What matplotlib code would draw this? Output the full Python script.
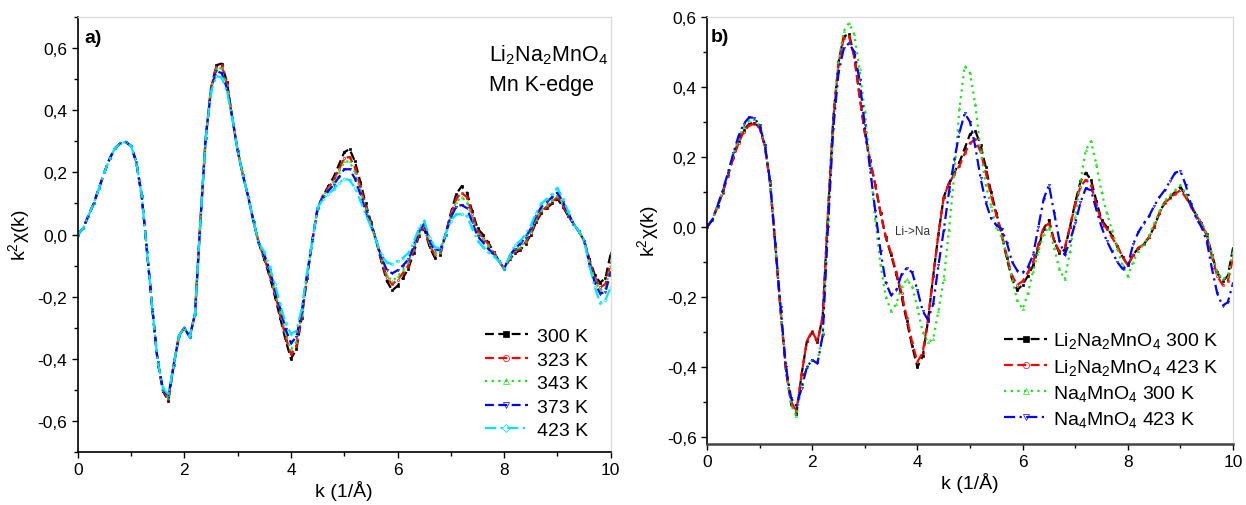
import numpy as np
import matplotlib
matplotlib.use("Agg")
import matplotlib.pyplot as plt
from matplotlib.ticker import MultipleLocator, FuncFormatter

plt.rcParams['font.family'] = ['Liberation Sans', 'DejaVu Sans']
plt.rcParams['mathtext.fontset'] = 'custom'
plt.rcParams['mathtext.rm'] = 'Liberation Sans'
plt.rcParams['mathtext.it'] = 'Liberation Sans:italic'
plt.rcParams['mathtext.default'] = 'regular'

# ---------------- data ----------------
K = np.linspace(0, 10, 101)

A300 = [0.000, 0.020, 0.060, 0.100, 0.150, 0.200, 0.245, 0.278, 0.294, 0.298,
        0.285, 0.232, 0.125, -0.055, -0.240, -0.410, -0.505, -0.535, -0.420, -0.325,
        -0.300, -0.330, -0.255, 0.040, 0.310, 0.470, 0.545, 0.550, 0.490, 0.375,
        0.270, 0.190, 0.120, 0.040, -0.030, -0.080, -0.135, -0.200, -0.270, -0.340,
        -0.400, -0.370, -0.270, -0.140, -0.020, 0.085, 0.125, 0.155, 0.185, 0.225,
        0.265, 0.275, 0.235, 0.170, 0.100, 0.040, -0.020, -0.090, -0.150, -0.180,
        -0.165, -0.140, -0.110, -0.060, -0.005, 0.020, -0.040, -0.075, -0.065, 0.000,
        0.070, 0.130, 0.155, 0.135, 0.075, 0.020, 0.000, -0.025, -0.055, -0.085,
        -0.110, -0.080, -0.060, -0.050, -0.030, 0.000, 0.040, 0.070, 0.085, 0.100,
        0.115, 0.090, 0.060, 0.035, 0.010, -0.020, -0.080, -0.130, -0.155, -0.140,
        -0.060]

A323 = [0.000, 0.020, 0.060, 0.100, 0.150, 0.200, 0.245, 0.278, 0.294, 0.298,
        0.285, 0.232, 0.125, -0.055, -0.240, -0.410, -0.502, -0.530, -0.420, -0.325,
        -0.300, -0.330, -0.255, 0.040, 0.310, 0.470, 0.540, 0.545, 0.485, 0.375,
        0.270, 0.190, 0.120, 0.040, -0.030, -0.075, -0.130, -0.190, -0.260, -0.330,
        -0.385, -0.360, -0.265, -0.140, -0.020, 0.085, 0.125, 0.150, 0.175, 0.210,
        0.245, 0.250, 0.215, 0.155, 0.090, 0.035, -0.020, -0.085, -0.140, -0.160,
        -0.145, -0.125, -0.100, -0.050, 0.000, 0.025, -0.035, -0.065, -0.060, 0.000,
        0.065, 0.115, 0.135, 0.120, 0.065, 0.010, -0.010, -0.030, -0.055, -0.085,
        -0.110, -0.080, -0.055, -0.045, -0.025, 0.005, 0.045, 0.075, 0.090, 0.105,
        0.120, 0.095, 0.060, 0.035, 0.010, -0.020, -0.085, -0.140, -0.170, -0.160,
        -0.090]

A343 = [0.000, 0.020, 0.060, 0.100, 0.150, 0.200, 0.245, 0.278, 0.294, 0.298,
        0.285, 0.232, 0.125, -0.055, -0.240, -0.410, -0.500, -0.525, -0.420, -0.325,
        -0.300, -0.330, -0.255, 0.040, 0.310, 0.470, 0.535, 0.535, 0.480, 0.375,
        0.270, 0.190, 0.120, 0.040, -0.030, -0.070, -0.125, -0.185, -0.250, -0.320,
        -0.370, -0.345, -0.260, -0.135, -0.020, 0.085, 0.125, 0.145, 0.170, 0.200,
        0.235, 0.235, 0.200, 0.145, 0.085, 0.030, -0.020, -0.080, -0.130, -0.150,
        -0.135, -0.115, -0.090, -0.045, 0.005, 0.030, -0.030, -0.060, -0.055, 0.000,
        0.060, 0.105, 0.120, 0.105, 0.055, 0.005, -0.015, -0.035, -0.060, -0.085,
        -0.110, -0.075, -0.050, -0.040, -0.020, 0.010, 0.050, 0.080, 0.095, 0.110,
        0.125, 0.100, 0.065, 0.035, 0.010, -0.020, -0.090, -0.145, -0.180, -0.170,
        -0.100]

A373 = [0.000, 0.020, 0.060, 0.100, 0.150, 0.200, 0.245, 0.278, 0.294, 0.298,
        0.285, 0.232, 0.125, -0.055, -0.240, -0.410, -0.497, -0.520, -0.420, -0.325,
        -0.300, -0.330, -0.255, 0.040, 0.310, 0.465, 0.525, 0.520, 0.470, 0.375,
        0.270, 0.190, 0.120, 0.040, -0.030, -0.065, -0.115, -0.175, -0.240, -0.305,
        -0.350, -0.330, -0.250, -0.130, -0.020, 0.085, 0.120, 0.140, 0.160, 0.185,
        0.210, 0.210, 0.180, 0.130, 0.075, 0.030, -0.020, -0.075, -0.115, -0.125,
        -0.115, -0.100, -0.080, -0.040, 0.010, 0.035, -0.020, -0.050, -0.050, 0.000,
        0.055, 0.090, 0.095, 0.085, 0.040, -0.005, -0.025, -0.045, -0.065, -0.085,
        -0.110, -0.070, -0.045, -0.030, -0.010, 0.020, 0.060, 0.090, 0.105, 0.120,
        0.135, 0.105, 0.070, 0.035, 0.010, -0.020, -0.095, -0.155, -0.190, -0.185,
        -0.120]

A423 = [0.000, 0.020, 0.060, 0.100, 0.150, 0.200, 0.245, 0.278, 0.294, 0.298,
        0.285, 0.232, 0.125, -0.055, -0.240, -0.410, -0.495, -0.515, -0.420, -0.325,
        -0.300, -0.330, -0.255, 0.040, 0.310, 0.460, 0.510, 0.505, 0.460, 0.375,
        0.270, 0.190, 0.120, 0.040, -0.030, -0.055, -0.105, -0.160, -0.225, -0.285,
        -0.320, -0.310, -0.240, -0.125, -0.020, 0.085, 0.115, 0.130, 0.145, 0.165,
        0.180, 0.175, 0.150, 0.110, 0.065, 0.025, -0.020, -0.065, -0.090, -0.095,
        -0.085, -0.075, -0.060, -0.025, 0.020, 0.045, -0.010, -0.040, -0.045, 0.000,
        0.045, 0.065, 0.065, 0.060, 0.020, -0.020, -0.040, -0.055, -0.070, -0.085,
        -0.110, -0.070, -0.035, -0.020, 0.000, 0.030, 0.070, 0.100, 0.115, 0.130,
        0.150, 0.115, 0.075, 0.035, 0.010, -0.020, -0.100, -0.170, -0.220, -0.210,
        -0.170]

B_LI423 = [0.000, 0.020, 0.058, 0.098, 0.147, 0.196, 0.240, 0.272, 0.290, 0.295,
           0.283, 0.230, 0.125, -0.055, -0.240, -0.405, -0.500, -0.525, -0.420, -0.325,
           -0.298, -0.328, -0.255, 0.040, 0.305, 0.465, 0.540, 0.545, 0.485, 0.375,
           0.270, 0.190, 0.120, 0.040, -0.030, -0.075, -0.130, -0.190, -0.260, -0.330,
           -0.385, -0.360, -0.265, -0.140, -0.020, 0.085, 0.125, 0.150, 0.175, 0.210,
           0.240, 0.250, 0.215, 0.155, 0.090, 0.035, -0.020, -0.085, -0.140, -0.165,
           -0.155, -0.130, -0.100, -0.050, 0.000, 0.010, -0.040, -0.070, -0.060, 0.000,
           0.065, 0.115, 0.135, 0.120, 0.065, 0.015, -0.005, -0.030, -0.055, -0.085,
           -0.110, -0.080, -0.060, -0.050, -0.030, 0.000, 0.040, 0.068, 0.082, 0.095,
           0.105, 0.085, 0.058, 0.033, 0.010, -0.025, -0.085, -0.140, -0.165, -0.155,
           -0.090]

B_NA300 = [0.000, 0.020, 0.060, 0.103, 0.153, 0.205, 0.252, 0.287, 0.305, 0.308,
           0.290, 0.235, 0.130, -0.050, -0.235, -0.405, -0.510, -0.540, -0.450, -0.400,
           -0.380, -0.385, -0.300, 0.020, 0.300, 0.470, 0.560, 0.583, 0.550, 0.450,
           0.330, 0.180, 0.020, -0.110, -0.200, -0.240, -0.220, -0.170, -0.150, -0.170,
           -0.230, -0.300, -0.330, -0.320, -0.240, -0.150, -0.010, 0.150, 0.340, 0.460,
           0.440, 0.350, 0.220, 0.120, 0.060, 0.000, -0.030, -0.080, -0.150, -0.210,
           -0.235, -0.190, -0.125, -0.070, -0.020, 0.000, -0.060, -0.120, -0.150, -0.070,
           0.030, 0.130, 0.220, 0.245, 0.180, 0.100, 0.040, -0.010, -0.060, -0.110,
           -0.140, -0.100, -0.070, -0.050, -0.025, 0.010, 0.045, 0.075, 0.090, 0.105,
           0.120, 0.095, 0.065, 0.035, 0.010, -0.020, -0.080, -0.130, -0.150, -0.140,
           -0.070]

B_NA423 = [0.000, 0.020, 0.060, 0.105, 0.155, 0.210, 0.260, 0.295, 0.313, 0.312,
           0.290, 0.235, 0.130, -0.050, -0.230, -0.400, -0.490, -0.510, -0.460, -0.400,
           -0.380, -0.390, -0.310, 0.000, 0.280, 0.440, 0.510, 0.525, 0.500, 0.420,
           0.290, 0.165, 0.045, -0.070, -0.160, -0.195, -0.180, -0.135, -0.117, -0.130,
           -0.180, -0.240, -0.265, -0.220, -0.110, -0.010, 0.100, 0.190, 0.270, 0.325,
           0.300, 0.230, 0.140, 0.070, 0.025, 0.005, -0.005, -0.045, -0.100, -0.125,
           -0.130, -0.115, -0.080, 0.000, 0.080, 0.120, 0.040, -0.040, -0.080, -0.040,
           0.010, 0.070, 0.110, 0.105, 0.050, 0.000, -0.040, -0.070, -0.100, -0.120,
           -0.110, -0.050, -0.015, 0.010, 0.030, 0.060, 0.085, 0.105, 0.130, 0.155,
           0.160, 0.120, 0.065, 0.025, 0.000, -0.040, -0.120, -0.190, -0.225, -0.215,
           -0.160]

LABELS_A = ["300 K", "323 K", "343 K", "373 K", "423 K"]
LABELS_B = [r"Li$_2$Na$_2$MnO$_4$ 300 K", r"Li$_2$Na$_2$MnO$_4$ 423 K",
            r"Na$_4$MnO$_4$ 300 K", r"Na$_4$MnO$_4$ 423 K"]

# ---------------- styles ----------------
BLACK, RED, GREEN, BLUE, CYAN = "#000000", "#ff0000", "#22dd22", "#0000ff", "#00e5ff"
DASH = (0, (4, 2))
DOT = (0, (1, 2))
DASHDOT = (0, (5, 2, 1, 2))

STY_A = [
    dict(color=BLACK, ls=DASH, marker="s", mfc=BLACK),
    dict(color=RED, ls=DASH, marker="o", mfc="none"),
    dict(color=GREEN, ls=DOT, marker="^", mfc="none"),
    dict(color=BLUE, ls=DASH, marker="v", mfc="none"),
    dict(color=CYAN, ls=DASHDOT, marker="D", mfc="none"),
]
STY_B = [
    dict(color=BLACK, ls=DASH, marker="s", mfc=BLACK),
    dict(color=RED, ls=DASH, marker="o", mfc="none"),
    dict(color=GREEN, ls=DOT, marker="^", mfc="none"),
    dict(color=BLUE, ls=DASHDOT, marker="v", mfc="none"),
]


def fmt(v, p):
    if abs(v) < 1e-9:
        v = 0.0
    return f"{v:.1f}".replace(".", ",")


def style_axes(ax, ylim, bottom_color="black", bottom_lw=1.2):
    ax.set_xlim(0, 10)
    ax.set_ylim(*ylim)
    ax.xaxis.set_major_locator(MultipleLocator(2))
    ax.xaxis.set_minor_locator(MultipleLocator(1))
    ax.yaxis.set_major_locator(MultipleLocator(0.2))
    ax.yaxis.set_minor_locator(MultipleLocator(0.1))
    ax.yaxis.set_major_formatter(FuncFormatter(fmt))
    ax.tick_params(which="major", direction="out", length=4, width=1.0,
                   labelsize=12.5, top=False, right=False)
    ax.tick_params(which="minor", direction="out", length=2.8, width=1.0,
                   top=False, right=False)
    for s in ("top", "right"):
        ax.spines[s].set_color("#dcdcdc")
        ax.spines[s].set_linewidth(1.0)
    ax.spines["left"].set_color("black")
    ax.spines["left"].set_linewidth(1.2)
    ax.spines["bottom"].set_color(bottom_color)
    ax.spines["bottom"].set_linewidth(bottom_lw)
    ax.set_xlabel("k (1/Å)", fontsize=14, labelpad=2)
    ax.set_ylabel(r"k$^2$χ(k)", fontsize=14, labelpad=4)


fig = plt.figure(figsize=(12.46, 5.06), dpi=100)
axa = fig.add_axes([0.0624, 0.1047, 0.4278, 0.8597])
axb = fig.add_axes([0.5674, 0.1206, 0.4222, 0.8439])

for y, lab, st in zip([A300, A323, A343, A373, A423], LABELS_A, STY_A):
    axa.plot(K, y, color=st["color"], ls=st["ls"], lw=1.6, marker=st["marker"],
             ms=1.6, mfc=st["mfc"], mec=st["color"], mew=0.5, label=lab)

for y, lab, st in zip([A300, B_LI423, B_NA300, B_NA423], LABELS_B, STY_B):
    axb.plot(K, y, color=st["color"], ls=st["ls"], lw=1.6, marker=st["marker"],
             ms=1.6, mfc=st["mfc"], mec=st["color"], mew=0.5, label=lab)

style_axes(axa, (-0.7, 0.7))
style_axes(axb, (-0.62, 0.6), bottom_color="#444444", bottom_lw=1.8)

axa.text(0.012, 0.953, "a)", transform=axa.transAxes, fontsize=14,
         fontweight="bold", va="center", ha="left")
axb.text(0.008, 0.954, "b)", transform=axb.transAxes, fontsize=14,
         fontweight="bold", va="center", ha="left")

axa.text(0.772, 0.901, r"Li$_2$Na$_2$MnO$_4$", transform=axa.transAxes,
         fontsize=15.5, va="baseline", ha="left")
axa.text(0.772, 0.832, "Mn K-edge", transform=axa.transAxes,
         fontsize=15.5, va="baseline", ha="left")

axb.text(3.58, -0.012, "Li->Na", fontsize=8.5, va="center", ha="left",
         color="#333333")

axa.legend(loc="lower left", bbox_to_anchor=(0.764, 0.03), frameon=False,
           fontsize=14, handlelength=2.2, handletextpad=0.45, labelspacing=0.3,
           borderpad=0, borderaxespad=0, markerscale=2.8, numpoints=1)
axb.legend(loc="lower left", bbox_to_anchor=(0.565, 0.035), frameon=False,
           fontsize=14, handlelength=2.2, handletextpad=0.3, labelspacing=0.32,
           borderpad=0, borderaxespad=0, markerscale=2.8, numpoints=1)

fig.savefig("out.png", dpi=100)
